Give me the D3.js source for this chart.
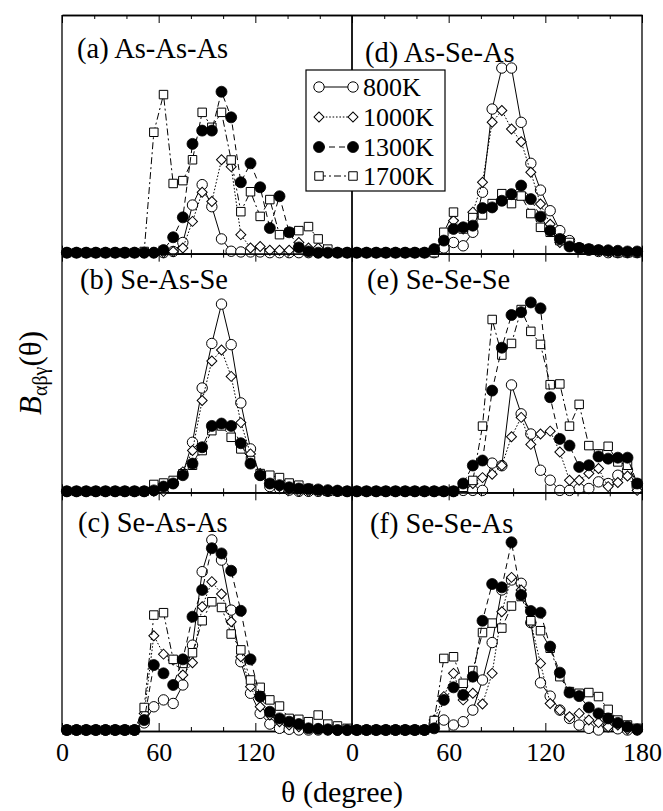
<!DOCTYPE html>
<html>
<head>
<meta charset="utf-8">
<script src="https://cdn.jsdelivr.net/npm/d3@7"></script>
<style>
  body { margin: 0; background: #fff; }
  svg text { font-family: "Liberation Serif", "Times New Roman", serif; fill: #000; }
</style>
</head>
<body>
<svg id="chart" width="663" height="811"></svg>
<script>
// Bond-angle distributions B_abg(theta), 6-degree bins
const angles = [3, 9, 15, 21, 27, 33, 39, 45, 51, 57, 63, 69, 75, 81, 87,
                93, 99, 105, 111, 117, 123, 129, 135, 141, 147, 153, 159, 165, 171, 177];
const temperatures = ["800K", "1000K", "1300K", "1700K"];
const xMajorTicks = [0, 60, 120, 180];
const xMinorTicks = [20, 40, 80, 100, 140, 160];
const xTickLabelsLeft = [0, 60, 120];
const xTickLabelsRight = [0, 60, 120, 180];
const panelTitles = ["(a) As-As-As", "(b) Se-As-Se", "(c) Se-As-As",
                     "(d) As-Se-As", "(e) Se-Se-Se", "(f) Se-Se-As"];

// (a) As-As-As
const asAsAs800  = [0,0,0,0,0,0,0,0,0,0,0,0.5,4.3,20.1,28.7,19.4,5.8,0.6,0.3,0.3,0.3,0,0,0,0,0,0,0,0,0];
const asAsAs1000 = [0,0,0,0,0,0,0,0,0,0,0,0.5,2,13.2,25.5,21.6,39.2,36.3,7.6,2,2.6,1,1,1,4.3,2,2,0.5,0,0];
const asAsAs1300 = [0,0,0,0,0,0,0,0,0,0,1.1,6.5,14.9,45.9,51.5,51.5,67.9,57.1,29.7,37.7,27.6,10.4,23.8,8.6,2.2,0.5,0,0,0,0];
const asAsAs1700 = [0,0,0,0,0,0,0,0,0.5,50.8,66.7,29.2,30.4,39.2,59.2,52.9,59.2,39.1,17.3,25.7,15.3,22.4,7.6,8.6,9.3,11,5.8,1.5,0,0];

// (b) Se-As-Se
const seAsSe800  = [0,0,0,0,0,0,0,0,0,0.4,2,3.5,7.5,20.7,43.6,62.4,79,61.9,37.3,17.9,6.8,2,1.2,0.5,0,0,0,0,0,0];
const seAsSe1000 = [0,0,0,0,0,0,0,0,0,0,0,3.3,8.2,17.2,38.3,55,59.6,48.5,29,15.8,7.5,3.3,2,1,0,0,0,0,0,0];
const seAsSe1300 = [0,0,0,0,0,0,0,0,0,0.4,2,3.3,6.8,11.7,18.6,27.6,28.6,27.6,20.3,11.7,6.8,3.3,2.6,1.7,1.2,1,0.8,0.5,0.3,0];
const seAsSe1700 = [0,0,0,0,0,0,0,0,0,2.9,3.5,4.6,7.4,11,17.2,25.6,27.6,22.8,17.9,13,7.5,6.8,5.8,3.5,2.6,1.2,0.5,0,0,0];

// (c) Se-As-As
const seAsAs800  = [0,0,0,0,0,0,0,0,3,9.8,12.7,11.2,19,35.8,66.8,80.2,71.7,50.6,28.8,15.5,7,2.5,0.7,0.3,0,0,0,0,0,0];
const seAsAs1000 = [0,0,0,0,0,0,0,0,7,39.8,32,29.5,23.2,28.4,52,62.6,57.4,45.7,30.9,18.3,9.8,6.3,3.5,2.1,1.4,1,0.5,0,0,0];
const seAsAs1300 = [0,0,0,0,0,0,0,0,4.2,27.4,23.9,19,29.8,47.8,59.1,76.7,74.5,67.2,50.3,29.8,14.1,7.7,4.9,3.5,2.5,0.7,0.5,0.3,0,0];
const seAsAs1700 = [0,0,0,0,0,0,0,0,9.5,48.5,49.5,29.8,28.1,32.6,46.1,54.1,51.7,40.5,33.8,21.1,18,12.7,10.1,4.9,4.5,3.5,6.3,2.5,1.7,0.7];

// (d) As-Se-As
const asSeAs800  = [0,0,0,0,0,0,0,0,0,2,4.3,2.9,8.6,25.5,60.6,77.9,77.9,55,37.7,26.4,17.7,9.3,5.1,2,1,0.5,0,0,0,0];
const asSeAs1000 = [0,0,0,0,0,0,0,0,0.5,5.4,13.5,10,17.1,29.7,55,60,52.2,46.8,33.9,20.5,12,4.3,3.6,2,1.5,1,0.5,0,0,0];
const asSeAs1300 = [0,0,0,0,0,0,0,0,1.5,5.1,10,10.7,11.4,18.8,19.1,21.9,24.7,28.3,22.6,15.2,9.3,5.8,2.6,2,1.5,1.1,1,0.8,0.5,0.5];
const asSeAs1700 = [0,0,0,0,0,0,0,0,0,8.6,17.1,10,14.8,15.9,20.7,24.9,20.7,23.9,16.5,10.7,8.6,5.1,4.3,2,1.5,1,0.5,0,0,0];

// (e) Se-Se-Se
const seSeSe800  = [0,0,0,0,0,0,0,0,0,0,0,0.4,0.4,0.4,11.9,10.8,44.9,32.7,24.2,8.9,4.7,0.4,0.4,1.2,1.2,4,3.3,6.8,8.9,2];
const seSeSe1000 = [0,0,0,0,0,0,0,0,0,0,0,2,3.3,5.8,7.2,10.9,23,31.2,19.8,24.2,25.4,16.6,4.7,4.7,7.5,9.6,2,3.7,6.5,0.4];
const seSeSe1300 = [0,0,0,0,0,0,0,0,0,0,0,3.3,10.9,13,42.5,60.6,74.4,75.6,79.7,77.2,39.7,22.1,19.3,10.3,11,14.7,13.8,14.2,14.2,3.3];
const seSeSe1700 = [0,0,0,0,0,0,0,0,0,0,0,1.7,4.6,27.5,72.5,57.5,62.4,76.7,67.5,62,45,45.3,27.5,36.7,19.3,15.8,19,12.4,11,3.3];

// (f) Se-Se-As
const seSeAs800  = [0,0,0,0,0,0,0,0,2.5,4.2,2.1,3.5,8.4,21.1,36.9,59.1,63.3,61.9,45.3,19.9,14.3,8.4,4.9,2.1,0.7,0,1.4,0.5,0,0];
const seSeAs1000 = [0,0,0,0,0,0,0,0,4.2,14.1,23.9,12.7,15.5,11,23.9,49.9,64.4,59.1,45.3,28.1,11.2,8.4,5.6,7,4.2,3.1,1.4,2.1,0.3,0];
const seSeAs1300 = [0,0,0,0,0,0,0,0,0.7,12.7,18,14.8,22.5,46.1,61.6,60.2,79.2,57,50.2,49.5,35.2,24.2,15.8,14.3,9.5,7,4.9,3,1.4,0.3];
const seSeAs1700 = [0,0,0,0,0,0,0,0,4,30.2,30.9,19.7,25.1,41.1,45.1,43,52.3,56.3,46.1,41.9,34.5,22.5,16.2,15.5,15.8,14.1,8.7,4.2,2.1,0.7];

const panelSeries = [
  [asAsAs800, asAsAs1000, asAsAs1300, asAsAs1700],
  [seAsSe800, seAsSe1000, seAsSe1300, seAsSe1700],
  [seAsAs800, seAsAs1000, seAsAs1300, seAsAs1700],
  [asSeAs800, asSeAs1000, asSeAs1300, asSeAs1700],
  [seSeSe800, seSeSe1000, seSeSe1300, seSeSe1700],
  [seSeAs800, seSeAs1000, seSeAs1300, seSeAs1700]
];

// ---- layout ----
const svg = d3.select("#chart");
const plotLeft = 62, plotRight = 642, plotTop = 15, plotBottom = 731;
const colWidth = (plotRight - plotLeft) / 2;
const rowHeight = (plotBottom - plotTop) / 3;
const titlePos = [[77, 58], [80, 289], [78, 532], [365, 62], [367, 289], [370, 533]];

// per-temperature line and marker styles
const styles = [
  { dash: null,      marker: "circleOpen" },
  { dash: "1.6,1.8", marker: "diamond" },
  { dash: "6,4",     marker: "circleFilled" },
  { dash: "7,3,2,3", marker: "square" }
];
const drawOrder = [0, 1, 3, 2];

function drawMarker(g, kind, cx, cy) {
  if (kind === "circleOpen") {
    g.append("circle").attr("cx", cx).attr("cy", cy).attr("r", 5.2)
      .attr("fill", "#fff").attr("stroke", "#000").attr("stroke-width", 1);
  } else if (kind === "circleFilled") {
    g.append("circle").attr("cx", cx).attr("cy", cy).attr("r", 5.5)
      .attr("fill", "#000").attr("stroke", "#000").attr("stroke-width", 0.8);
  } else if (kind === "diamond") {
    g.append("path").attr("d", d3.symbol(d3.symbolSquare, 50)())
      .attr("transform", `translate(${cx},${cy}) rotate(45)`)
      .attr("fill", "#fff").attr("stroke", "#000").attr("stroke-width", 1);
  } else if (kind === "square") {
    g.append("path").attr("d", d3.symbol(d3.symbolSquare, 72)())
      .attr("transform", `translate(${cx},${cy})`)
      .attr("fill", "#fff").attr("stroke", "#000").attr("stroke-width", 1);
  }
}

panelSeries.forEach((seriesSet, p) => {
  const col = Math.floor(p / 3), row = p % 3;
  const x0 = plotLeft + col * colWidth;
  const y0 = plotTop + row * rowHeight;
  const y1 = y0 + rowHeight;
  const x = d3.scaleLinear().domain([0, 180]).range([x0, x0 + colWidth]);
  const y = d3.scaleLinear().domain([0, 100]).range([y1 - 1, y1 - 1 - 237]);
  const g = svg.append("g");

  // frame ticks: bottom (pointing up) and top (pointing down)
  const addTicks = (axisFn, ty, values, len) => {
    const a = g.append("g").attr("transform", `translate(0,${ty})`)
      .call(axisFn(x).tickValues(values).tickSize(-len).tickSizeOuter(0).tickFormat(""));
    a.select(".domain").attr("stroke-width", 1.3);
    a.selectAll(".tick line").attr("stroke-width", 1);
  };
  addTicks(d3.axisBottom, y1, xMajorTicks, 8);
  addTicks(d3.axisBottom, y1, xMinorTicks, 4);
  addTicks(d3.axisTop, y0, xMajorTicks, 8);
  addTicks(d3.axisTop, y0, xMinorTicks, 4);
  // vertical edges
  g.append("line").attr("x1", x0).attr("x2", x0).attr("y1", y0).attr("y2", y1)
    .attr("stroke", "#000").attr("stroke-width", 1.3);
  g.append("line").attr("x1", x0 + colWidth).attr("x2", x0 + colWidth).attr("y1", y0).attr("y2", y1)
    .attr("stroke", "#000").attr("stroke-width", 1.3);

  // series
  const line = d3.line().x((d, i) => x(angles[i])).y(d => y(d));
  drawOrder.forEach(s => {
    const vals = seriesSet[s];
    g.append("path").datum(vals).attr("d", line)
      .attr("fill", "none").attr("stroke", "#000").attr("stroke-width", 1)
      .attr("stroke-dasharray", styles[s].dash);
    const mg = g.append("g");
    vals.forEach((v, i) => drawMarker(mg, styles[s].marker, x(angles[i]), y(v)));
  });

  // panel title
  g.append("text").attr("x", titlePos[p][0]).attr("y", titlePos[p][1])
    .attr("font-size", 28.5).text(panelTitles[p]);

  // tick labels under the bottom row
  if (row === 2) {
    const labels = col === 0 ? xTickLabelsLeft : xTickLabelsRight;
    const a = svg.append("g").attr("transform", `translate(0,${y1})`)
      .call(d3.axisBottom(x).tickValues(labels).tickSize(0).tickPadding(12).tickFormat(d3.format("d")));
    a.select(".domain").remove();
    a.selectAll("text").attr("font-size", 26);
  }
});

// legend
const legend = svg.append("g");
legend.append("rect").attr("x", 306).attr("y", 70).attr("width", 139).attr("height", 121)
  .attr("fill", "#fff").attr("stroke", "#000").attr("stroke-width", 1.2);
const legendRows = [87, 117, 147, 176];
temperatures.forEach((t, s) => {
  const ly = legendRows[s];
  legend.append("line").attr("x1", 319).attr("x2", 353).attr("y1", ly).attr("y2", ly)
    .attr("stroke", "#000").attr("stroke-width", 1).attr("stroke-dasharray", styles[s].dash);
  drawMarker(legend, styles[s].marker, 319, ly);
  drawMarker(legend, styles[s].marker, 353, ly);
  legend.append("text").attr("x", 363).attr("y", ly + 8.5).attr("font-size", 26).text(t);
});

// axis titles
svg.append("text").attr("x", 342).attr("y", 802).attr("text-anchor", "middle")
  .attr("font-size", 30).text("θ (degree)");
const yl = svg.append("text").attr("transform", "translate(41,373) rotate(-90)")
  .attr("text-anchor", "middle").attr("font-size", 31);
yl.append("tspan").attr("font-style", "italic").text("B");
yl.append("tspan").attr("font-size", 20).attr("dy", 6).text("αβγ");
yl.append("tspan").attr("dy", -6).text("(θ)");
</script>
</body>
</html>
